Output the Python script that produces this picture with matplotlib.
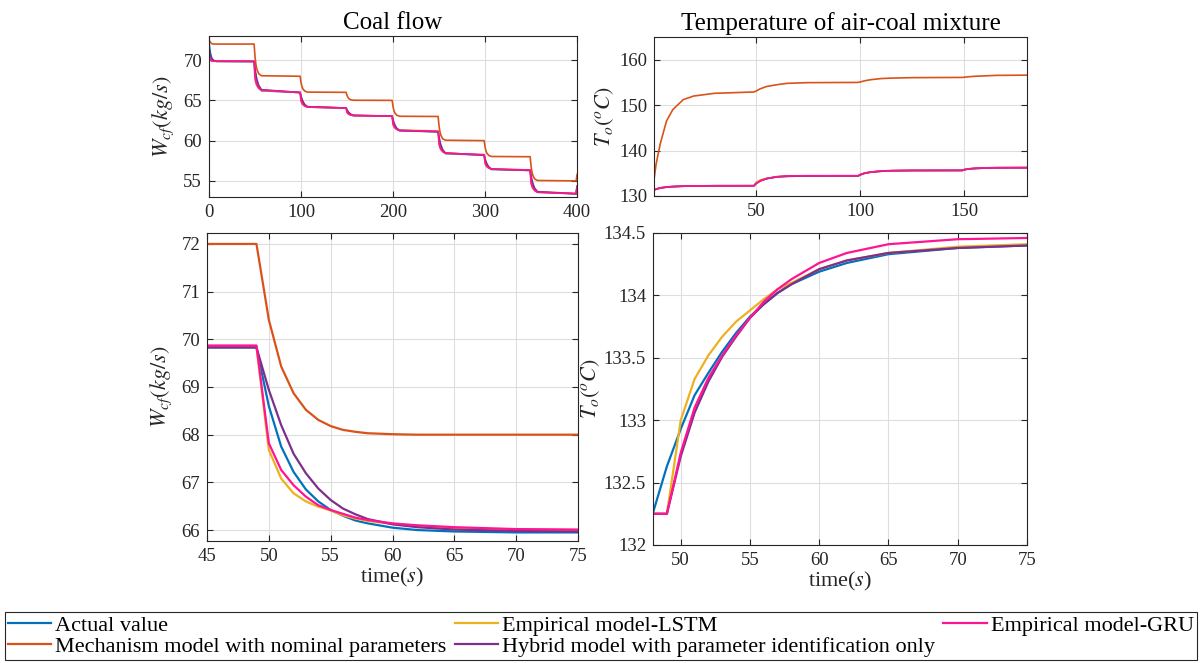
import matplotlib
matplotlib.use("Agg")
import matplotlib.pyplot as plt

plt.rcParams['font.family'] = ['Liberation Serif', 'DejaVu Serif']
plt.rcParams['mathtext.fontset'] = 'stix'

# ---------------- data ----------------
series_names = ["Actual value", "Mechanism model with nominal parameters",
                "Empirical model-LSTM", "Hybrid model with parameter identification only",
                "Empirical model-GRU"]
series_colors = ["#0072BD", "#D95319", "#EDB120", "#7E2F8E", "#FF1493"]

# Coal flow, full range
t_cf = [0, 1, 2, 3, 5, 8,
        49, 50, 51, 52, 54, 57,
        99, 100, 101, 102, 104, 107,
        149, 150, 151, 152, 154, 157,
        199, 200, 201, 202, 204, 207,
        249, 250, 251, 252, 254, 257,
        299, 300, 301, 302, 304, 307,
        349, 350, 351, 352, 354, 357,
        399, 400]
cf_actual = [72.3, 71.2, 70.6, 70.25, 69.95, 69.85,
             69.83, 68.6, 67.75, 67.22, 66.6, 66.2,
             65.97, 65.36, 64.93, 64.68, 64.38, 64.17,
             64.05, 63.73, 63.51, 63.38, 63.22, 63.11,
             63.05, 62.43, 62.0, 61.74, 61.43, 61.23,
             61.1, 60.17, 59.53, 59.16, 58.69, 58.39,
             58.2, 57.59, 57.17, 56.93, 56.62, 56.42,
             56.3, 55.37, 54.73, 54.36, 53.89, 53.59,
             53.4, 54.3]
cf_mech = [72.5, 72.3, 72.15, 72.05, 72.0, 72.0,
           72.0, 70.4, 69.44, 68.88, 68.31, 68.06,
           68.0, 67.2, 66.72, 66.44, 66.16, 66.03,
           66.0, 65.6, 65.36, 65.22, 65.08, 65.02,
           65.0, 64.2, 63.72, 63.44, 63.16, 63.03,
           63.0, 61.8, 61.08, 60.66, 60.23, 60.05,
           60.0, 59.2, 58.72, 58.44, 58.16, 58.03,
           58.0, 56.8, 56.08, 55.66, 55.23, 55.05,
           55.0, 55.8]
cf_lstm = [70.8, 70.2, 70.0, 69.92, 69.87, 69.85,
           69.85, 67.68, 67.08, 66.77, 66.49, 66.24,
           66.0, 64.91, 64.6, 64.44, 64.3, 64.17,
           64.05, 63.49, 63.33, 63.25, 63.18, 63.11,
           63.05, 62.01, 61.72, 61.57, 61.43, 61.31,
           61.2, 59.55, 59.08, 58.84, 58.62, 58.43,
           58.25, 57.19, 56.88, 56.73, 56.59, 56.47,
           56.35, 54.73, 54.26, 54.03, 53.82, 53.63,
           53.45, 54.3]
cf_hybrid = [71.5, 70.9, 70.4, 70.15, 69.95, 69.86,
             69.83, 68.94, 68.2, 67.6, 66.87, 66.33,
             65.97, 65.53, 65.16, 64.88, 64.49, 64.22,
             64.05, 63.82, 63.63, 63.48, 63.28, 63.14,
             63.05, 62.6, 62.23, 61.94, 61.55, 61.28,
             61.1, 60.43, 59.88, 59.45, 58.87, 58.46,
             58.2, 57.76, 57.4, 57.12, 56.74, 56.47,
             56.3, 55.63, 55.08, 54.65, 54.07, 53.66,
             53.4, 54.3]
cf_gru = [70.6, 70.1, 69.95, 69.9, 69.88, 69.87,
          69.87, 67.82, 67.26, 66.94, 66.52, 66.26,
          66.0, 64.97, 64.68, 64.52, 64.3, 64.18,
          64.05, 63.52, 63.38, 63.29, 63.18, 63.12,
          63.05, 62.04, 61.77, 61.61, 61.4, 61.27,
          61.15, 59.61, 59.19, 58.95, 58.63, 58.44,
          58.25, 57.24, 56.97, 56.81, 56.6, 56.47,
          56.35, 54.79, 54.36, 54.11, 53.78, 53.59,
          53.4, 54.3]

# Temperature, full range
t_tm = [1, 2, 4, 7, 10, 15, 20, 30, 49, 50, 52, 55, 60, 65, 75, 99, 100, 102, 105, 110, 115, 125,
        149, 150, 152, 155, 160, 165, 180]
tm_actual = [131.3, 131.5, 131.75, 131.95, 132.05, 132.15, 132.2, 132.25, 132.26, 132.93, 133.38, 133.83, 134.19, 134.33,
             134.4, 134.42, 134.7, 135.0, 135.25, 135.45, 135.55, 135.6, 135.62, 135.8, 135.95, 136.05, 136.15, 136.2, 136.22]
tm_mech = [133.6, 137.0, 141.5, 146.5, 149.0, 151.2, 152.0, 152.6, 152.9, 153.1, 153.6, 154.1, 154.5, 154.8,
           154.95, 155.0, 155.1, 155.35, 155.6, 155.85, 155.95, 156.05, 156.1, 156.15, 156.25, 156.35, 156.45, 156.55, 156.6]
tm_lstm = [131.3, 131.5, 131.75, 131.95, 132.05, 132.15, 132.2, 132.24, 132.25, 133.0, 133.52, 133.88, 134.21, 134.34,
           134.41, 134.42, 134.75, 135.05, 135.28, 135.47, 135.56, 135.61, 135.62, 135.85, 135.98, 136.08, 136.16, 136.2, 136.22]
tm_hybrid = [131.3, 131.5, 131.75, 131.95, 132.05, 132.15, 132.2, 132.24, 132.25, 132.71, 133.31, 133.82, 134.21, 134.34,
             134.4, 134.42, 134.65, 134.98, 135.24, 135.45, 135.55, 135.6, 135.62, 135.78, 135.94, 136.05, 136.15, 136.2, 136.22]
tm_gru = [131.35, 131.55, 131.8, 132.0, 132.1, 132.18, 132.22, 132.25, 132.25, 132.74, 133.34, 133.82, 134.26, 134.41,
          134.46, 134.47, 134.7, 135.02, 135.28, 135.5, 135.6, 135.65, 135.66, 135.82, 135.98, 136.1, 136.2, 136.25, 136.27]

# Coal flow, zoom 45-75 s
t_cfz = [45, 49, 50, 51, 52, 53, 54, 55, 56, 57, 58, 60, 62, 65, 70, 75]
cfz_actual = [69.83, 69.83, 68.6, 67.75, 67.22, 66.85, 66.6, 66.42, 66.3, 66.2, 66.14, 66.05, 66.0, 65.97, 65.95, 65.95]
cfz_mech = [72.0, 72.0, 70.41, 69.43, 68.87, 68.52, 68.31, 68.18, 68.1, 68.06, 68.03, 68.01, 68.0, 68.0, 68.0, 68.0]
cfz_lstm = [69.85, 69.85, 67.68, 67.08, 66.77, 66.6, 66.49, 66.41, 66.31, 66.24, 66.19, 66.13, 66.08, 66.03, 66.01, 66.0]
cfz_hybrid = [69.83, 69.83, 68.94, 68.2, 67.6, 67.19, 66.87, 66.63, 66.45, 66.33, 66.23, 66.12, 66.06, 66.01, 65.98, 65.97]
cfz_gru = [69.87, 69.87, 67.82, 67.26, 66.94, 66.7, 66.52, 66.42, 66.34, 66.26, 66.21, 66.14, 66.1, 66.06, 66.02, 66.01]

# Temperature, zoom 48-75 s
t_tmz = [48, 49, 50, 51, 52, 53, 54, 55, 56, 57, 58, 60, 62, 65, 70, 75]
tmz_actual = [132.26, 132.63, 132.93, 133.2, 133.38, 133.55, 133.7, 133.83, 133.93, 134.02, 134.09, 134.19, 134.26, 134.33, 134.38, 134.4]
tmz_mech = [152.9, 152.9, 153.1, 153.35, 153.6, 153.8, 153.95, 154.1, 154.2, 154.3, 154.38, 154.5, 154.6, 154.8, 154.9, 154.95]
tmz_lstm = [132.25, 132.25, 133.0, 133.33, 133.52, 133.67, 133.79, 133.88, 133.97, 134.05, 134.1, 134.21, 134.28, 134.34, 134.39, 134.41]
tmz_hybrid = [132.25, 132.25, 132.71, 133.06, 133.31, 133.51, 133.67, 133.82, 133.93, 134.02, 134.09, 134.21, 134.28, 134.34, 134.38, 134.4]
tmz_gru = [132.25, 132.25, 132.74, 133.1, 133.34, 133.52, 133.68, 133.82, 133.95, 134.05, 134.13, 134.26, 134.34, 134.41, 134.45, 134.46]

# ---------------- figure ----------------
fig = plt.figure(figsize=(12.02, 6.63), dpi=100)
TXT = "#262626"
TICK_FS = 13.5
LAB_FS = 16


def style(ax):
    ax.grid(True, color="#dedede", lw=0.8)
    ax.set_axisbelow(True)
    ax.tick_params(direction="in", top=True, right=True, labelsize=TICK_FS,
                   colors=TXT, length=4, width=0.8, pad=5)
    for s in ax.spines.values():
        s.set_color(TXT)
        s.set_linewidth(0.8)


ax_tl = fig.add_axes([0.1739, 0.7029, 0.3062, 0.2428])
ax_tr = fig.add_axes([0.5441, 0.7044, 0.3103, 0.2398])
ax_bl = fig.add_axes([0.1722, 0.1840, 0.3087, 0.4646])
ax_br = fig.add_axes([0.5433, 0.1780, 0.3111, 0.4706])

cf_all = [cf_actual, cf_mech, cf_lstm, cf_hybrid, cf_gru]
tm_all = [tm_actual, tm_mech, tm_lstm, tm_hybrid, tm_gru]
cfz_all = [cfz_actual, cfz_mech, cfz_lstm, cfz_hybrid, cfz_gru]
tmz_all = [tmz_actual, tmz_mech, tmz_lstm, tmz_hybrid, tmz_gru]

handles = []
for name, col, y1, y2, y3, y4 in zip(series_names, series_colors, cf_all, tm_all, cfz_all, tmz_all):
    ax_tl.plot(t_cf, y1, color=col, lw=1.2)
    ax_tr.plot(t_tm, y2, color=col, lw=1.2)
    h, = ax_bl.plot(t_cfz, y3, color=col, lw=1.6, label=name)
    ax_br.plot(t_tmz, y4, color=col, lw=1.6)
    handles.append(h)

# top-left
ax_tl.set_xlim(0, 400)
ax_tl.set_ylim(53, 73)
ax_tl.set_xticks([0, 100, 200, 300, 400])
ax_tl.set_yticks([55, 60, 65, 70])
ax_tl.set_title("Coal flow", fontsize=18, color="black", pad=5)
ax_tl.set_ylabel(r"$W_{cf}(kg/s)$", fontsize=LAB_FS, color=TXT, labelpad=5)

# top-right
ax_tr.set_xlim(1, 180)
ax_tr.set_ylim(130, 165)
ax_tr.set_xticks([50, 100, 150])
ax_tr.set_yticks([130, 140, 150, 160])
ax_tr.set_title("Temperature of air-coal mixture", fontsize=18, color="black", pad=5)
ax_tr.set_ylabel(r"$T_o(^oC)$", fontsize=LAB_FS, color=TXT, labelpad=2)

# bottom-left
ax_bl.set_xlim(45, 75)
ax_bl.set_ylim(65.77, 72.23)
ax_bl.set_xticks([45, 50, 55, 60, 65, 70, 75])
ax_bl.set_yticks([66, 67, 68, 69, 70, 71, 72])
ax_bl.set_ylabel(r"$W_{cf}(kg/s)$", fontsize=LAB_FS, color=TXT, labelpad=5)
ax_bl.set_xlabel(r"time($s$)", fontsize=LAB_FS, color=TXT, labelpad=1)

# bottom-right
ax_br.set_xlim(48, 75)
ax_br.set_ylim(132, 134.5)
ax_br.set_xticks([50, 55, 60, 65, 70, 75])
ax_br.set_yticks([132, 132.5, 133, 133.5, 134, 134.5])
ax_br.set_yticklabels(["132", "132.5", "133", "133.5", "134", "134.5"])
ax_br.set_ylabel(r"$T_o(^oC)$", fontsize=LAB_FS, color=TXT, labelpad=1)
ax_br.set_xlabel(r"time($s$)", fontsize=LAB_FS, color=TXT, labelpad=1)

for ax in (ax_tl, ax_tr, ax_bl, ax_br):
    style(ax)

leg = fig.legend(handles=handles, loc="lower left", ncol=3, mode="expand",
                 bbox_to_anchor=(0.004, 0.0045, 0.992, 0.08), fontsize=16,
                 frameon=True, fancybox=False, edgecolor=TXT, framealpha=1,
                 handlelength=1.95, handletextpad=0.18, labelspacing=0.0,
                 borderpad=0.15, borderaxespad=0)
leg.get_frame().set_linewidth(0.8)

fig.savefig("out.png", dpi=100)
